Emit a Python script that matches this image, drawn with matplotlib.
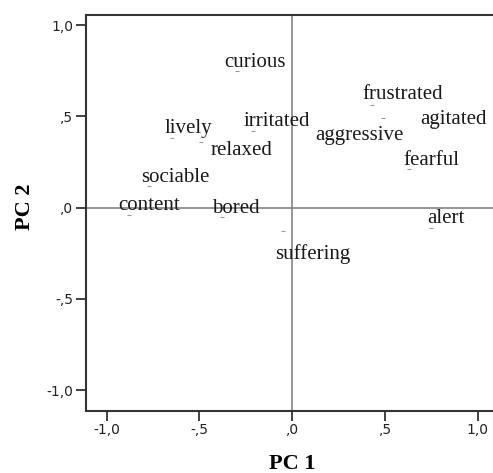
import matplotlib
matplotlib.use("Agg")
import matplotlib.pyplot as plt

# component loadings
labels = ["curious", "lively", "relaxed", "sociable", "content", "bored",
          "irritated", "suffering", "frustrated", "aggressive", "agitated",
          "fearful", "alert"]
pc1 = [-0.30, -0.65, -0.49, -0.77, -0.88, -0.38,
       -0.21, -0.05, 0.43, 0.49, 0.76, 0.63, 0.75]
pc2 = [0.75, 0.38, 0.36, 0.12, -0.04, -0.05,
       0.42, -0.13, 0.56, 0.49, 0.44, 0.21, -0.11]

# label offsets in pixels (left edge, baseline) relative to each point
offsets = [(-12, 4), (-7, 5), (9, -13), (-8, 4), (-11, 5), (-10, 4),
           (-10, 5), (-8, -28), (-10, 6), (-68, -22), (-13, 3),
           (-6, 4), (-4, 5)]

fig = plt.figure(figsize=(4.93, 4.73), dpi=100)
ax = fig.add_axes([0.1744, 0.1311, 0.8366, 0.8372])
ax.set_xlim(-1.111, 1.111)
ax.set_ylim(-1.115, 1.055)

ax.axhline(0, color="#8c8c8c", lw=1.3, zorder=1)
ax.axvline(0, color="#8c8c8c", lw=1.3, zorder=1)

ax.scatter(pc1, pc2, marker="_", s=8, color="#999999", lw=0.8, zorder=2)
for lab, x, y, (dx, dy) in zip(labels, pc1, pc2, offsets):
    ax.annotate(lab, (x, y), xytext=(dx, dy), textcoords="offset pixels",
                ha="left", va="baseline", family="Liberation Serif",
                fontsize=15, color="#1a1a1a", zorder=3)

ticks = [-1.0, -0.5, 0.0, 0.5, 1.0]
tick_labels = ["-1,0", "-,5", ",0", ",5", "1,0"]
ax.set_xticks(ticks)
ax.set_xticklabels(tick_labels)
ax.set_yticks(ticks)
ax.set_yticklabels(tick_labels)
ax.tick_params(direction="out", length=7, width=1.3, color="#333333",
               labelsize=10, pad=2, labelcolor="#222222")

for s in ax.spines.values():
    s.set_color("#333333")
    s.set_linewidth(1.5)

ax.set_xlabel("PC 1", family="Liberation Serif", fontsize=16, fontweight="bold")
ax.set_ylabel("PC 2", family="Liberation Serif", fontsize=16, fontweight="bold")
ax.xaxis.set_label_coords(0.5, -0.109)
ax.yaxis.set_label_coords(-0.124, 0.515)

fig.savefig("out.png", dpi=100)
